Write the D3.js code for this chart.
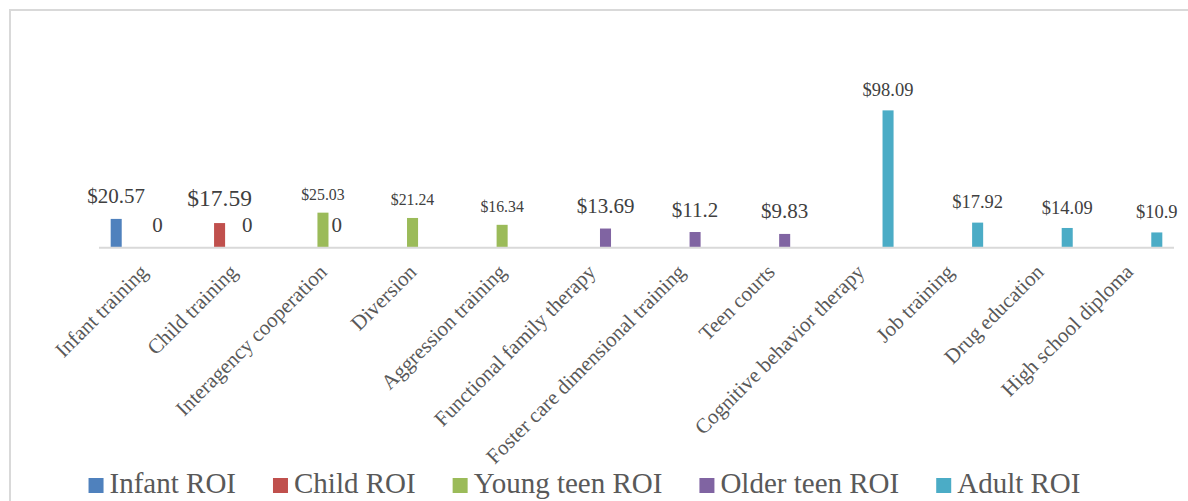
<!DOCTYPE html>
<html>
<head>
<meta charset="utf-8">
<script src="https://cdn.jsdelivr.net/npm/d3@7"></script>
<style>
  body { margin: 0; background: #fff; }
  svg { display: block; font-family: "Liberation Serif", "Times New Roman", serif; }
</style>
</head>
<body>
<svg width="1188" height="501"></svg>
<script>
var categories = ["Infant training", "Child training", "Interagency cooperation", "Diversion",
    "Aggression training", "Functional family therapy", "Foster care dimensional training",
    "Teen courts", "Cognitive behavior therapy", "Job training", "Drug education", "High school diploma"];

var seriesNames = ["Infant ROI", "Child ROI", "Young teen ROI", "Older teen ROI", "Adult ROI"];

var infantRoi = [20.57, null, null, null, null, null, null, null, null, null, null, null];
var childRoi = [null, 17.59, null, null, null, null, null, null, null, null, null, null];
var youngTeenRoi = [null, null, 25.03, 21.24, 16.34, null, null, null, null, null, null, null];
var olderTeenRoi = [0, 0, 0, null, null, 13.69, 11.2, 9.83, null, null, null, null];
var adultRoi = [null, null, null, null, null, null, null, null, 98.09, 17.92, 14.09, 10.9];

var seriesValues = [infantRoi, childRoi, youngTeenRoi, olderTeenRoi, adultRoi];

var colors = ["#4f81bd", "#c0504d", "#9bbb59", "#8064a2", "#4bacc6"];
// data label font sizes differ per series in the original
var labelSizes = [21, 23.5, 15.8, 21, 18.5];

var svg = d3.select("svg"),
    width = +svg.attr("width"),
    height = +svg.attr("height");

// chart area border (runs off the right/bottom edge)
svg.append("rect")
    .attr("x", 10)
    .attr("y", 10)
    .attr("width", 1220)
    .attr("height", 540)
    .attr("fill", "none")
    .attr("stroke", "#d9d9d9")
    .attr("stroke-width", 2);

var plotLeft = 99, plotRight = 1174, baseY = 247.7;

var x0 = d3.scaleBand()
    .domain(categories)
    .range([plotLeft, plotRight])
    .paddingInner(0.23)
    .paddingOuter(0.115);

var x1 = d3.scaleBand()
    .domain(d3.range(seriesNames.length))
    .range([0, x0.bandwidth()])
    .paddingInner(0.2)
    .paddingOuter(0.1);

var y = d3.scaleLinear()
    .domain([0, 100])
    .range([baseY, baseY - 140]);

var rows = [];
seriesValues.forEach(function (vals, s) {
    vals.forEach(function (v, i) {
        if (v !== null) rows.push({series: s, cat: categories[i], value: v});
    });
});

var bars = svg.append("g")
    .attr("class", "bars")
    .selectAll("rect")
    .data(rows.filter(function (d) { return d.value > 0; }))
    .enter().append("rect")
    .attr("x", function (d) { return x0(d.cat) + x1(d.series); })
    .attr("y", function (d) { return y(d.value); })
    .attr("width", x1.bandwidth())
    .attr("height", function (d) { return y(0) - y(d.value); })
    .attr("fill", function (d) { return colors[d.series]; });

// axis line
svg.append("line")
    .attr("x1", plotLeft)
    .attr("x2", plotRight)
    .attr("y1", baseY)
    .attr("y2", baseY)
    .attr("stroke", "#d9d9d9")
    .attr("stroke-width", 2);

// data labels
svg.append("g")
    .attr("class", "labels")
    .selectAll("text")
    .data(rows)
    .enter().append("text")
    .attr("x", function (d) { return x0(d.cat) + x1(d.series) + x1.bandwidth() / 2; })
    .attr("y", function (d) { return y(d.value) - (5 + 0.5 * labelSizes[d.series]); })
    .attr("text-anchor", "middle")
    .attr("fill", "#404040")
    .style("font-size", function (d) { return labelSizes[d.series] + "px"; })
    .text(function (d) {
        return d.value === 0 ? "0" : "$" + d.value;
    });

// category labels, rotated
svg.append("g")
    .attr("class", "cats")
    .selectAll("text")
    .data(categories)
    .enter().append("text")
    .attr("transform", function (d) {
        return "translate(" + (x0(d) + x0.bandwidth() / 2) + "," + 268 + ") rotate(-45)";
    })
    .attr("dy", "0.35em")
    .attr("text-anchor", "end")
    .attr("fill", "#595959")
    .style("font-size", "21px")
    .text(function (d) { return d; });

// legend
var legend = svg.append("g").attr("class", "legend");
var legendX = 0;
seriesNames.forEach(function (name, i) {
    var item = legend.append("g").attr("transform", "translate(" + legendX + ",0)");
    item.append("rect")
        .attr("x", 0)
        .attr("y", 478)
        .attr("width", 15)
        .attr("height", 15)
        .attr("fill", colors[i]);
    var t = item.append("text")
        .attr("x", 21)
        .attr("y", 493)
        .attr("fill", "#595959")
        .style("font-size", "29px")
        .text(name);
    legendX += 21 + t.node().getComputedTextLength() + 37;
});
legendX -= 37;
legend.attr("transform", "translate(" + (584.5 - legendX / 2) + ",0)");
</script>
</body>
</html>
